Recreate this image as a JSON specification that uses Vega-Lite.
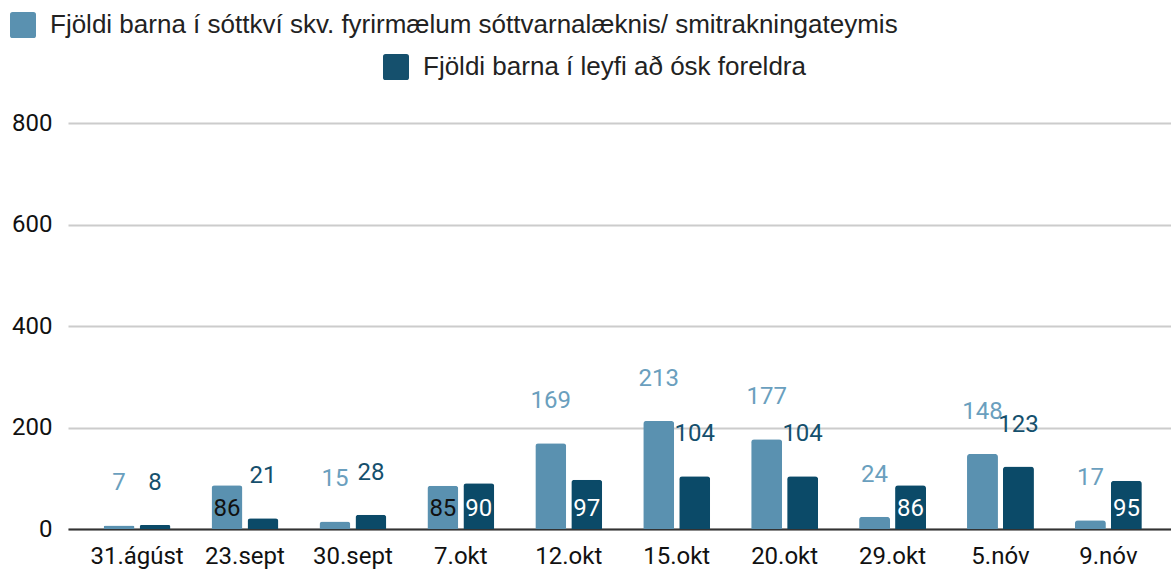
{
  "$schema": "https://vega.github.io/schema/vega-lite/v6.json",
  "autosize": {"type": "none"},
  "padding": {"left": 68, "top": 123, "right": 0, "bottom": 42},
  "width": 1103,
  "height": 406,
  "background": "white",
  "config": {
    "view": {"stroke": null},
    "font": "Roboto",
    "legend": {
      "orient": "none",
      "labelFont": "Liberation Sans",
      "labelFontSize": 26,
      "labelColor": "#222222",
      "labelLimit": 1000,
      "symbolSize": 676,
      "symbolStrokeWidth": 0,
      "symbolOpacity": 1,
      "labelOffset": 14,
      "title": null,
      "padding": 0
    }
  },
  "data": {
    "values": [
      {"date": "31.ágúst", "series": "Fjöldi barna í sóttkví skv. fyrirmælum sóttvarnalæknis/ smitrakningateymis", "value": 7},
      {"date": "31.ágúst", "series": "Fjöldi barna í leyfi að ósk foreldra", "value": 8},
      {"date": "23.sept", "series": "Fjöldi barna í sóttkví skv. fyrirmælum sóttvarnalæknis/ smitrakningateymis", "value": 86},
      {"date": "23.sept", "series": "Fjöldi barna í leyfi að ósk foreldra", "value": 21},
      {"date": "30.sept", "series": "Fjöldi barna í sóttkví skv. fyrirmælum sóttvarnalæknis/ smitrakningateymis", "value": 15},
      {"date": "30.sept", "series": "Fjöldi barna í leyfi að ósk foreldra", "value": 28},
      {"date": "7.okt", "series": "Fjöldi barna í sóttkví skv. fyrirmælum sóttvarnalæknis/ smitrakningateymis", "value": 85},
      {"date": "7.okt", "series": "Fjöldi barna í leyfi að ósk foreldra", "value": 90},
      {"date": "12.okt", "series": "Fjöldi barna í sóttkví skv. fyrirmælum sóttvarnalæknis/ smitrakningateymis", "value": 169},
      {"date": "12.okt", "series": "Fjöldi barna í leyfi að ósk foreldra", "value": 97},
      {"date": "15.okt", "series": "Fjöldi barna í sóttkví skv. fyrirmælum sóttvarnalæknis/ smitrakningateymis", "value": 213},
      {"date": "15.okt", "series": "Fjöldi barna í leyfi að ósk foreldra", "value": 104},
      {"date": "20.okt", "series": "Fjöldi barna í sóttkví skv. fyrirmælum sóttvarnalæknis/ smitrakningateymis", "value": 177},
      {"date": "20.okt", "series": "Fjöldi barna í leyfi að ósk foreldra", "value": 104},
      {"date": "29.okt", "series": "Fjöldi barna í sóttkví skv. fyrirmælum sóttvarnalæknis/ smitrakningateymis", "value": 24},
      {"date": "29.okt", "series": "Fjöldi barna í leyfi að ósk foreldra", "value": 86},
      {"date": "5.nóv", "series": "Fjöldi barna í sóttkví skv. fyrirmælum sóttvarnalæknis/ smitrakningateymis", "value": 148},
      {"date": "5.nóv", "series": "Fjöldi barna í leyfi að ósk foreldra", "value": 123},
      {"date": "9.nóv", "series": "Fjöldi barna í sóttkví skv. fyrirmælum sóttvarnalæknis/ smitrakningateymis", "value": 17},
      {"date": "9.nóv", "series": "Fjöldi barna í leyfi að ósk foreldra", "value": 95}
    ]
  },
  "encoding": {
    "x": {
      "field": "date",
      "type": "nominal",
      "sort": null,
      "title": null,
      "scale": {"paddingInner": 0.38, "paddingOuter": 0.3, "align": 0.55},
      "axis": {
        "labelAngle": 0,
        "labelFont": "Roboto",
        "labelFontSize": 24,
        "labelColor": "#111111",
        "labelPadding": 15,
        "ticks": false,
        "domainColor": "#333333",
        "domainWidth": 2,
        "grid": false
      }
    },
    "xOffset": {
      "field": "series",
      "type": "nominal",
      "sort": null,
      "scale": {"paddingInner": 0.14, "domain": ["Fjöldi barna í sóttkví skv. fyrirmælum sóttvarnalæknis/ smitrakningateymis", "Fjöldi barna í leyfi að ósk foreldra"]}
    }
  },
  "layer": [
    {
      "mark": {"type": "bar", "cornerRadiusTopLeft": 3, "cornerRadiusTopRight": 3},
      "encoding": {
        "y": {
          "field": "value",
          "type": "quantitative",
          "title": null,
          "scale": {"domain": [0, 800]},
          "axis": {
            "values": [0, 200, 400, 600, 800],
            "labelFont": "Roboto",
            "labelFontSize": 24,
            "labelColor": "#111111",
            "labelPadding": 16,
            "ticks": false,
            "domain": false,
            "gridColor": "#cccccc",
            "gridWidth": 2
          }
        },
        "color": {
          "field": "series",
          "type": "nominal",
          "sort": null,
          "scale": {
            "domain": ["Fjöldi barna í sóttkví skv. fyrirmælum sóttvarnalæknis/ smitrakningateymis", "Fjöldi barna í leyfi að ósk foreldra"],
            "range": ["#5a91b0", "#0b4a68"]
          },
          "legend": {
            "values": ["Fjöldi barna í sóttkví skv. fyrirmælum sóttvarnalæknis/ smitrakningateymis"],
            "legendX": -58,
            "legendY": -111,
            "symbolType": "M-1,-0.8Q-1,-1,-0.8,-1L0.8,-1Q1,-1,1,-0.8L1,0.8Q1,1,0.8,1L-0.8,1Q-1,1,-1,0.8Z"
          }
        }
      }
    },
    {
      "transform": [{"filter": "datum.value < 80 || datum.value > 100"}],
      "mark": {"type": "text", "font": "Roboto", "fontSize": 24, "baseline": "middle", "dy": -42},
      "encoding": {
        "y": {"field": "value", "type": "quantitative"},
        "text": {"field": "value", "type": "quantitative"},
        "fill": {
          "field": "series",
          "type": "nominal",
          "sort": null,
          "scale": {
            "domain": ["Fjöldi barna í leyfi að ósk foreldra", "Fjöldi barna í sóttkví skv. fyrirmælum sóttvarnalæknis/ smitrakningateymis"],
            "range": ["#15506d", "#6a9fbe"]
          },
          "legend": {
            "values": ["Fjöldi barna í leyfi að ósk foreldra"],
            "legendX": 315,
            "legendY": -69,
            "symbolFillColor": "#0b4a68",
            "symbolType": "M-1,-0.8Q-1,-1,-0.8,-1L0.8,-1Q1,-1,1,-0.8L1,0.8Q1,1,0.8,1L-0.8,1Q-1,1,-1,0.8Z"
          }
        }
      }
    },
    {
      "transform": [{"filter": "datum.value >= 80 && datum.value <= 100"}],
      "mark": {"type": "text", "font": "Roboto", "fontSize": 24, "baseline": "middle", "dy": -20},
      "encoding": {
        "y": {"datum": 0, "type": "quantitative"},
        "text": {"field": "value", "type": "quantitative"},
        "color": {
          "condition": {"test": "datum.series === 'Fjöldi barna í leyfi að ósk foreldra'", "value": "#ffffff"},
          "value": "#111111"
        }
      }
    }
  ]
}
